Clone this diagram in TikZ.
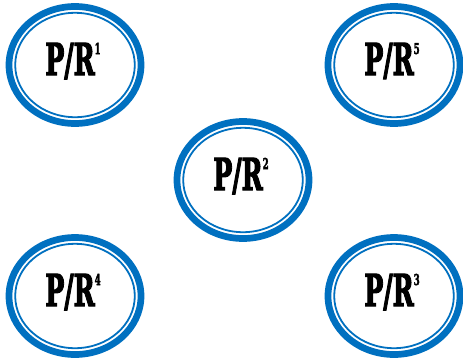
\documentclass[tikz,border=0pt]{standalone}
\usepackage{fontspec}
\usepackage{graphicx}
\usetikzlibrary{shapes.geometric}
\newfontfamily\slabfont{DejaVuSerifCondensed-Bold.ttf}[FakeBold=3]
\definecolor{ringblue}{RGB}{0,112,192}
\colorlet{ring colour}{ringblue}
\tikzset{
    % Heavy outer ring, thin inner ring
    ring node/.style={ellipse, draw=ring colour, line width=6.7pt, fill=white,
        inner sep=0, minimum width=132pt, minimum height=117pt},
    inner ring/.style={draw=ring colour, line width=1.8pt},
    every node/.style={align=center},
}
% Label with a small raised index
\newcommand{\prlabel}[1]{\scalebox{0.64}[1]{\slabfont
    \fontsize{44}{44}\selectfont P/R\raisebox{21pt}{\fontsize{15}{15}\selectfont #1}}}

\begin{document}
\begin{tikzpicture}[x=1pt, y=-1pt]
\useasboundingbox (0,0) rectangle (463,360);

% Five rings, one in the middle and one in each corner
\foreach \xx/\yy/\num in {75/65/1, 243/180/2, 394/296/3, 75/296/4, 394/65/5}
{
    \node [ring node] (pr\num) at (\xx,\yy) {};
    \node (label\num) at ([xshift=-2pt, yshift=4pt]pr\num.center) {\prlabel{\num}};
    \draw [inner ring] (pr\num.center) ellipse [x radius=59.8, y radius=52.2];
}
\end{tikzpicture}
\end{document}
